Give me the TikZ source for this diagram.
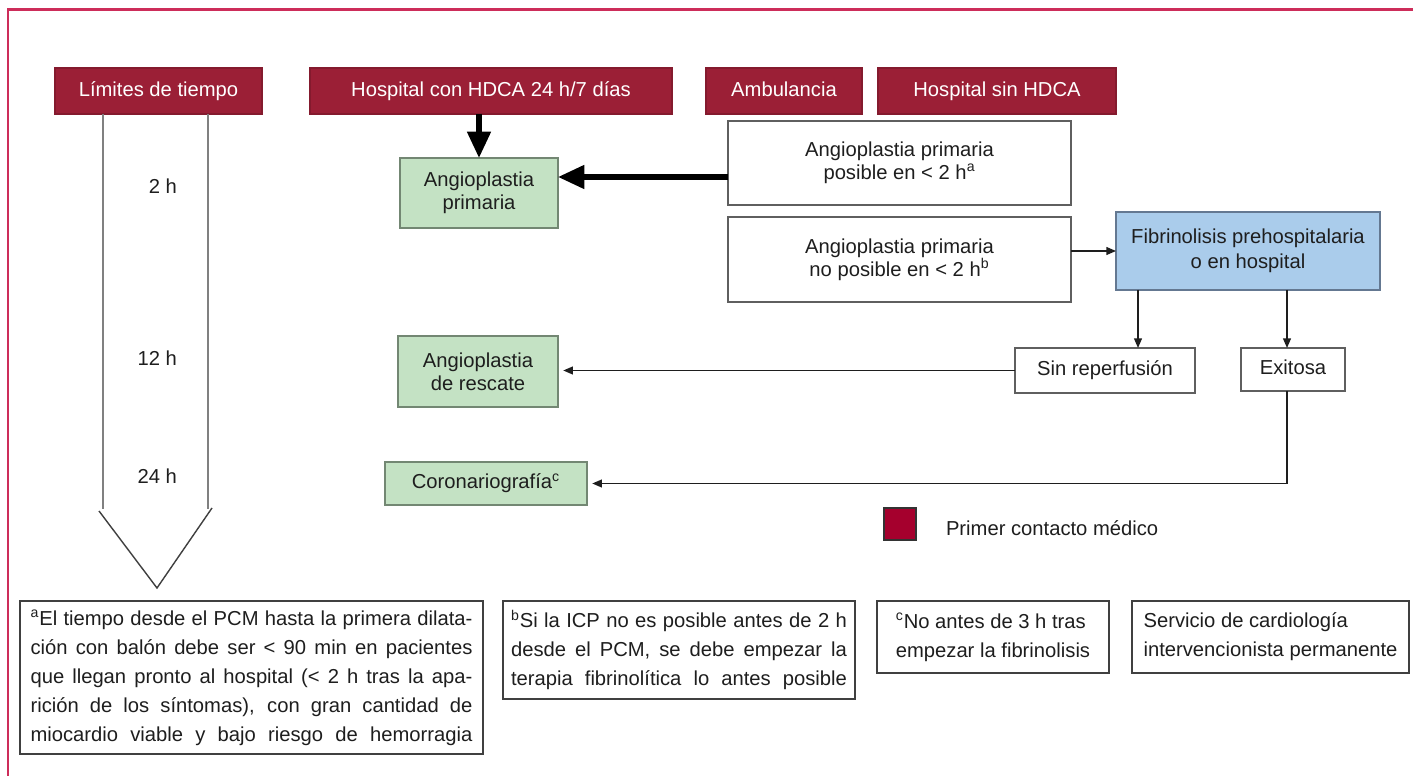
\documentclass[tikz,border=0pt]{standalone}
\usepackage{fontspec}
\setmainfont{Liberation Sans}
\usetikzlibrary{arrows.meta}
\definecolor{hdr}{RGB}{155,31,54}
\definecolor{frm}{RGB}{205,45,90}
\definecolor{grn}{RGB}{196,226,196}
\definecolor{grnb}{RGB}{115,135,115}
\definecolor{blu}{RGB}{170,204,235}
\definecolor{blub}{RGB}{100,120,145}
\definecolor{leg}{RGB}{165,0,45}
\definecolor{txt}{RGB}{30,30,30}
\definecolor{brd}{RGB}{95,95,95}
\newcommand\mybox[7]{\node[#6, minimum width={(#4-#2)*0.02cm}, minimum height={(#5-#3)*0.02cm}] (#1) at ({(#2+#4)/2},{(#3+#5)/2}) {#7};}
\begin{document}
\begin{tikzpicture}[x=0.02cm,y=-0.02cm,
  every node/.style={font=\fontsize{11.5}{13}\selectfont, text=txt, inner sep=0pt, outer sep=0pt},
  oneline/.style={text height=8.6pt, text depth=2.4pt},
  hdrbox/.style={fill=hdr, draw=hdr!85!black, text=white, line width=0.6pt, oneline},
  wbox/.style={fill=white, draw=brd, line width=0.8pt, align=center},
  gbox/.style={fill=grn, draw=grnb, line width=0.8pt, align=center},
  bbox/.style={fill=blu, draw=blub, line width=0.8pt, align=center, font=\fontsize{11.5}{14}\selectfont},
  nbox/.style={fill=white, draw=black!75, line width=0.9pt, align=left, font=\fontsize{11.5}{16.5}\selectfont},
  bigarrow/.style={line width=3pt, draw=black, -{Triangle[length=15pt,width=13pt]}},
  smallarrow/.style={line width=0.8pt, draw=txt, -{Triangle[length=5.5pt,width=4.5pt]}},
]
\fill[white] (0,0) rectangle (1413,776);
\useasboundingbox (0,0) rectangle (1413,776);
% frame
\draw[frm, line width=1.7pt] (8,776) -- (8,10) -- (1413,10);

% header boxes
\mybox{lim}{55}{68}{262}{114}{hdrbox}{Límites de tiempo}
\mybox{hospcon}{310}{68}{672}{114}{hdrbox}{Hospital con HDCA 24 h/7 días}
\mybox{amb}{706}{68}{862}{114}{hdrbox}{Ambulancia}
\mybox{hospsin}{878}{68}{1116}{114}{hdrbox}{Hospital sin HDCA}

% time arrow
\draw[black!50, line width=0.8pt] (103,114) -- (103,509);
\draw[black!50, line width=0.8pt] (208,114) -- (208,509);
\draw[black!75, line width=0.8pt] (99,511) -- (157,588) -- (212,508);
\node[anchor=east, oneline] (t2) at (177,188) {2 h};
\node[anchor=east, oneline] (t12) at (177,360) {12 h};
\node[anchor=east, oneline] (t24) at (177,478) {24 h};

% green boxes
\mybox{angprim}{400}{158}{558}{228}{gbox}{Angioplastia\\primaria}
\mybox{rescate}{398}{336}{558}{407}{gbox}{Angioplastia\\de rescate}
\mybox{corono}{385}{462}{587}{505}{gbox, oneline}{Coronariografía\textsuperscript{c}}

% white boxes
\mybox{posible}{728}{121}{1071}{205}{wbox}{Angioplastia primaria\\posible en < 2 h\textsuperscript{a}}
\mybox{noposible}{728}{217}{1071}{302}{wbox}{Angioplastia primaria\\no posible en < 2 h\textsuperscript{b}}
\mybox{fibrin}{1116}{212}{1380}{290}{bbox}{Fibrinolisis prehospitalaria\\o en hospital}
\mybox{sinrep}{1015}{348}{1195}{393}{wbox, oneline}{Sin reperfusión}
\mybox{exitosa}{1241}{348}{1345}{391}{wbox, oneline}{Exitosa}

% legend
\mybox{legsq}{884}{508}{916}{540}{fill=leg, draw=black!80, line width=0.8pt}{}
\node[anchor=west, oneline] (legtxt) at (946,530) {Primer contacto médico};

% footnotes
\mybox{fa}{20}{601}{483}{754}{nbox}{%
\makebox[8.84cm][s]{\textsuperscript{a}El tiempo desde el PCM hasta la primera dilata-}\\
\makebox[8.84cm][s]{ción con balón debe ser < 90 min en pacientes}\\
\makebox[8.84cm][s]{que llegan pronto al hospital (< 2 h tras la apa-}\\
\makebox[8.84cm][s]{rición de los síntomas), con gran cantidad de}\\
\makebox[8.84cm][s]{miocardio viable y bajo riesgo de hemorragia}}
\mybox{fb}{503}{601}{855}{699}{nbox}{%
\makebox[6.72cm][s]{\textsuperscript{b}Si la ICP no es posible antes de 2 h}\\
\makebox[6.72cm][s]{desde el PCM, se debe empezar la}\\
\makebox[6.72cm][s]{terapia fibrinolítica lo antes posible}}
\mybox{fc}{877}{601}{1109}{673}{nbox}{\textsuperscript{c}No antes de 3 h tras\\empezar la fibrinolisis}
\mybox{fd}{1132}{601}{1409}{673}{nbox}{Servicio de cardiología\\intervencionista permanente}

% connectors
\coordinate (ythick) at (0,177);
\coordinate (c1) at (1138,0);
\coordinate (c2) at (1287,0);
\draw[bigarrow] (hospcon.south -| angprim.north) -- (angprim.north);
\draw[bigarrow] (posible.west |- ythick) -- (angprim.east |- ythick);
\draw[smallarrow] (noposible.east |- fibrin.west) -- (fibrin.west);
\draw[smallarrow] (fibrin.south -| c1) -- (sinrep.north -| c1);
\draw[smallarrow] (fibrin.south -| c2) -- (exitosa.north -| c2);
\draw[smallarrow, shorten >=3pt] (sinrep.west) -- (sinrep.west -| rescate.east);
\draw[smallarrow, shorten >=3pt] (exitosa.south -| c2) |- (corono.east);
\end{tikzpicture}
\end{document}
